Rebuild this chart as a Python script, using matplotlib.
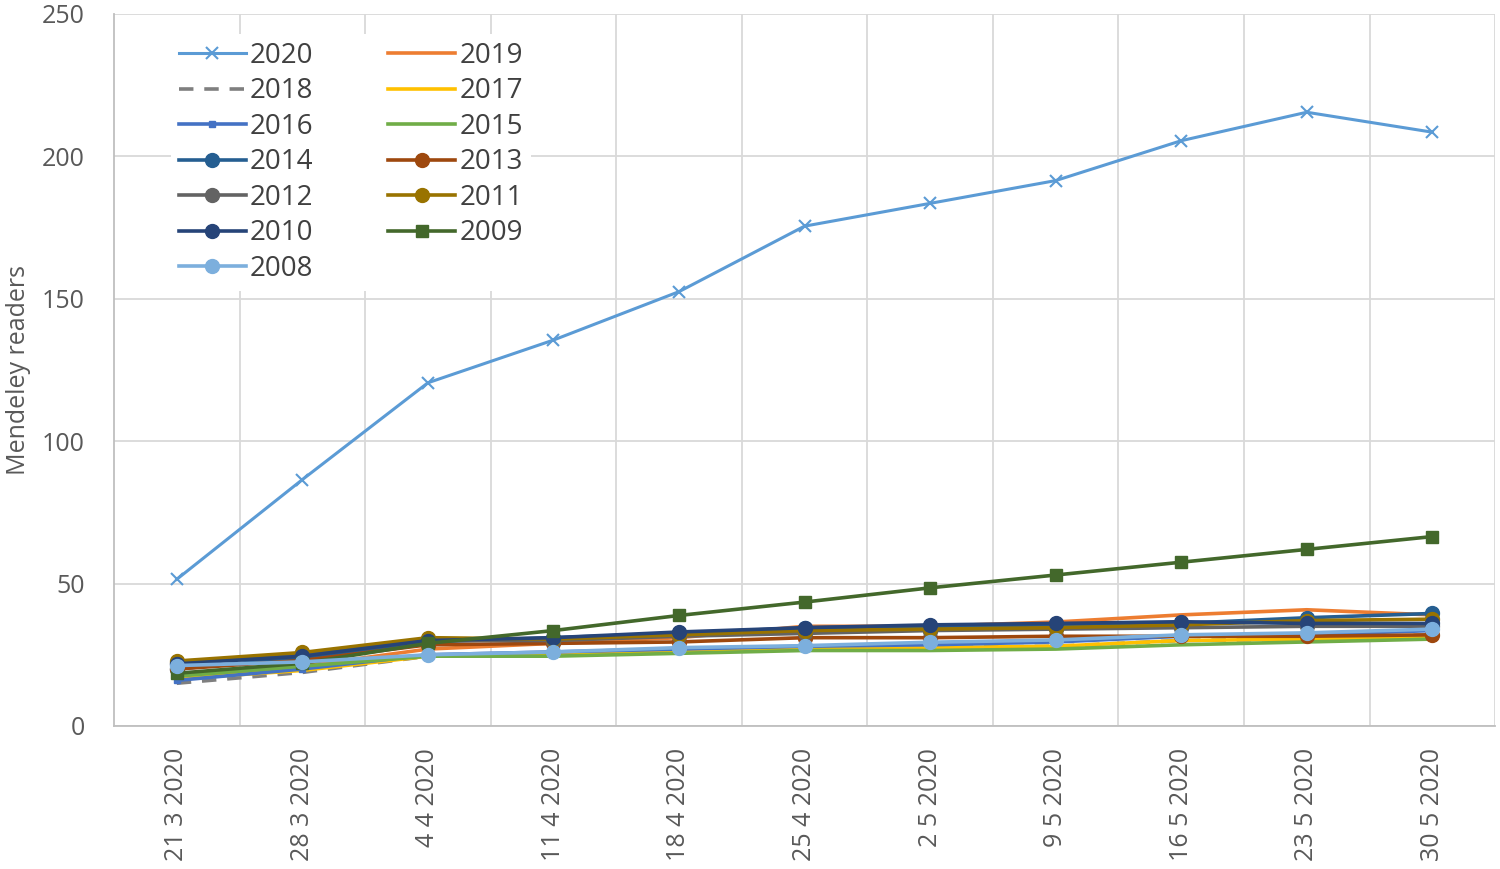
import matplotlib
matplotlib.use("Agg")
import matplotlib.pyplot as plt
from matplotlib.ticker import MultipleLocator, FixedLocator

plt.rcParams['font.family'] = ['Open Sans', 'DejaVu Sans']

dates = ['21 3 2020', '28 3 2020', '4 4 2020', '11 4 2020', '18 4 2020', '25 4 2020',
         '2 5 2020', '9 5 2020', '16 5 2020', '23 5 2020', '30 5 2020']

y2020 = [51.5, 86.5, 120.5, 135.5, 152.5, 175.5, 183.5, 191.5, 205.5, 215.5, 208.5]
y2019 = [17.0, 21.0, 27.0, 29.0, 31.0, 35.0, 35.0, 36.5, 39.0, 40.8, 39.0]
y2018 = [15.0, 18.8, 24.5, 25.0, 26.0, 27.0, 27.5, 28.0, 30.0, 30.5, 32.0]
y2017 = [16.5, 19.5, 24.5, 25.0, 26.0, 27.0, 27.5, 28.0, 30.0, 30.5, 31.0]
y2016 = [16.0, 20.0, 25.0, 26.0, 27.0, 28.0, 28.5, 29.5, 31.5, 32.0, 33.5]
y2015 = [17.5, 21.0, 24.5, 24.5, 25.5, 26.5, 26.5, 27.0, 28.5, 29.5, 30.5]
y2014 = [20.0, 24.0, 29.5, 31.0, 32.5, 34.5, 35.0, 35.5, 36.0, 38.0, 39.5]
y2013 = [20.0, 23.0, 28.5, 29.0, 29.5, 31.0, 31.0, 31.5, 31.5, 31.5, 32.0]
y2012 = [22.0, 25.0, 30.0, 30.0, 31.5, 32.5, 33.5, 34.0, 34.5, 35.0, 35.0]
y2011 = [22.8, 25.8, 31.0, 30.5, 32.0, 33.5, 34.0, 34.5, 35.5, 37.0, 37.5]
y2010 = [21.8, 24.5, 30.0, 31.0, 33.0, 34.5, 35.5, 36.0, 36.6, 36.0, 36.0]
y2009 = [18.5, 22.0, 29.0, 33.5, 38.8, 43.5, 48.5, 53.0, 57.5, 62.0, 66.5]
y2008 = [21.2, 22.5, 25.0, 26.0, 27.5, 28.2, 29.4, 30.2, 32.0, 32.7, 34.0]

series = [
    ('2020', y2020, dict(color='#5B9BD5', marker='x', ms=9, mew=1.5, lw=2.2)),
    ('2019', y2019, dict(color='#ED7D31', lw=2.6)),
    ('2018', y2018, dict(color='#7F7F7F', lw=2.6, dashes=(4, 3))),
    ('2017', y2017, dict(color='#FFC000', lw=2.6)),
    ('2016', y2016, dict(color='#4472C4', marker='s', ms=5, lw=2.6)),
    ('2015', y2015, dict(color='#70AD47', lw=2.6)),
    ('2014', y2014, dict(color='#255E91', marker='o', ms=10, lw=2.6)),
    ('2013', y2013, dict(color='#9E480E', marker='o', ms=10, lw=2.6)),
    ('2012', y2012, dict(color='#636363', marker='o', ms=10, lw=2.6)),
    ('2011', y2011, dict(color='#997300', marker='o', ms=10, lw=2.6)),
    ('2010', y2010, dict(color='#264478', marker='o', ms=10, lw=2.6)),
    ('2009', y2009, dict(color='#43682B', marker='s', ms=9, lw=2.6)),
    ('2008', y2008, dict(color='#7CAFDD', marker='o', ms=10, lw=2.6)),
]

fig = plt.figure(figsize=(15, 8.69), dpi=100)
ax = fig.add_axes([0.076, 0.1646, 0.9207, 0.8193])

x = list(range(len(dates)))
handles = {}
for name, vals, style in series:
    line, = ax.plot(x, vals, label=name, **style)
    handles[name] = line

ax.set_xlim(-0.5, len(dates) - 0.5)
ax.set_ylim(0, 250)
ax.yaxis.set_major_locator(MultipleLocator(50))
ax.set_xticks(x)
ax.set_xticklabels(dates, rotation=90)
ax.xaxis.set_minor_locator(FixedLocator([i + 0.5 for i in range(len(dates))]))

grid_c = '#D9D9D9'
ax.grid(axis='y', which='major', color=grid_c, lw=1.3)
ax.grid(axis='x', which='minor', color=grid_c, lw=1.3)
ax.set_axisbelow(True)

for s in ['top', 'right']:
    ax.spines[s].set_visible(False)
for s in ['left', 'bottom']:
    ax.spines[s].set_color('#BFBFBF')
    ax.spines[s].set_linewidth(1.3)

ax.tick_params(axis='both', which='both', length=0, labelsize=18, colors='#595959')
ax.tick_params(axis='y', pad=21)
ax.tick_params(axis='x', pad=16)

ax.set_ylabel('Mendeley readers', fontsize=18, color='#595959')
ax.yaxis.set_label_coords(-0.06, 0.5)

order = ['2020', '2018', '2016', '2014', '2012', '2010', '2008',
         '2019', '2017', '2015', '2013', '2011', '2009']
leg = ax.legend([handles[n] for n in order], order, ncol=2, loc='upper left',
                bbox_to_anchor=(0.031, 0.992), fontsize=20, frameon=True,
                facecolor='white', edgecolor='none', framealpha=1,
                handlelength=2.4, handletextpad=0.15, columnspacing=2.7,
                labelspacing=0.27, borderpad=0.3)
for t in leg.get_texts():
    t.set_color('#404040')

fig.savefig('out.png', dpi=100, facecolor='white')
